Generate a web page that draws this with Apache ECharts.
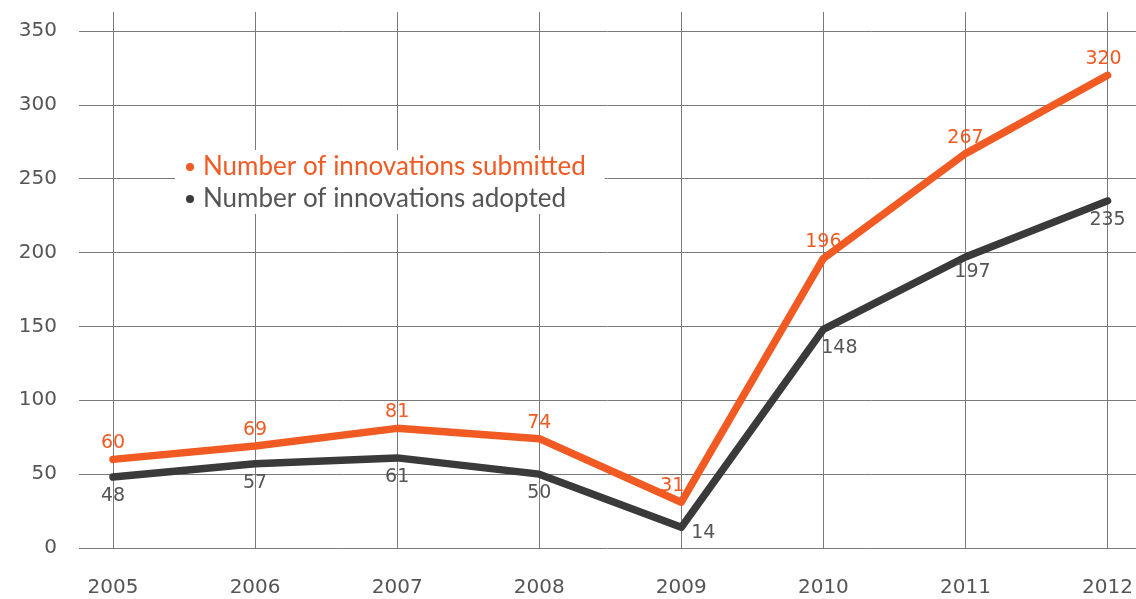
<!DOCTYPE html>
<html><head><meta charset="utf-8">
<script src="https://cdn.jsdelivr.net/npm/echarts@6/dist/echarts.min.js"></script>
<style>html,body{margin:0;padding:0;background:#fff}#c{width:1136px;height:599px}</style>
</head><body><div id="c"></div>
<script>
const years = ['2005','2006','2007','2008','2009','2010','2011','2012'];
const submitted = [60, 69, 81, 74, 31, 196, 267, 320];
const adopted = [48, 57, 61, 50, 14, 148, 197, 235];
const yTicks = [0, 350, 50]; // min, max, interval

const FONT = 'Lato';
const NUMFONT = 'DejaVu Sans';
const ORANGE = '#F15A22';
const DARK = '#3A3A3A';
const GRID = '#7a7a7a';
const TXT = '#555';

const subOffsets = {4: [-9, 0], 7: [-4, 0]};
const adoOffsets = {4: [22, -13], 5: [16, 0], 6: [7, -4]};

const chart = echarts.init(document.getElementById('c'), null, {renderer: 'canvas'});
const topPx = 12, y350Px = 31, bottomPx = 548;
const dataMax = yTicks[1] * (bottomPx - topPx) / (bottomPx - y350Px);

chart.setOption({
  animation: false,
  textStyle: {fontFamily: FONT},
  legend: {
    orient: 'vertical', left: 175, top: 150,
    backgroundColor: '#fff',
    padding: [4, 19, 2, 11],
    itemGap: 6, itemWidth: 8, itemHeight: 8, icon: 'circle',
    data: [
      {name: 'Number of innovations submitted', textStyle: {color: ORANGE}},
      {name: 'Number of innovations adopted', textStyle: {color: TXT}}
    ],
    textStyle: {fontSize: 26, lineHeight: 26, fontFamily: FONT, padding: [0, 0, 0, 4]}
  },
  grid: [
    {left: 113, right: 24, top: topPx, bottom: 599 - bottomPx},
    {left: 79, right: 0, top: y350Px, bottom: 599 - bottomPx}
  ],
  xAxis: [
    {type: 'category', gridIndex: 0, data: years, boundaryGap: false,
     axisLine: {show: false}, axisTick: {show: false},
     axisLabel: {color: TXT, fontSize: 20, margin: 30, fontFamily: NUMFONT},
     splitLine: {show: true, lineStyle: {color: GRID, width: 1}}},
    {type: 'value', gridIndex: 1, show: false, min: 0, max: 1}
  ],
  yAxis: [
    {type: 'value', gridIndex: 0, min: 0, max: dataMax, show: false, splitLine: {show: false}},
    {type: 'value', gridIndex: 1, min: yTicks[0], max: yTicks[1], interval: yTicks[2],
     axisLine: {show: false}, axisTick: {show: false},
     axisLabel: {color: TXT, fontSize: 20, margin: 22, fontFamily: NUMFONT},
     splitLine: {show: true, lineStyle: {color: GRID, width: 1}}}
  ],
  series: [
    {name: 'Number of innovations submitted', type: 'line', xAxisIndex: 0, yAxisIndex: 0,
     data: submitted.map((v, i) => ({value: v, label: {offset: subOffsets[i] || [0, 0]}})),
     smooth: false, symbol: 'circle', symbolSize: 1, showSymbol: true, color: ORANGE,
     itemStyle: {color: ORANGE},
     lineStyle: {width: 7.5, color: ORANGE, cap: 'round', join: 'round'},
     label: {show: true, position: 'top', distance: 6, color: ORANGE, fontSize: 19, fontFamily: NUMFONT},
     z: 3},
    {name: 'Number of innovations adopted', type: 'line', xAxisIndex: 0, yAxisIndex: 0,
     data: adopted.map((v, i) => ({value: v, label: {offset: adoOffsets[i] || [0, 0]}})),
     smooth: false, symbol: 'circle', symbolSize: 1, showSymbol: true, color: DARK,
     itemStyle: {color: DARK},
     lineStyle: {width: 7.5, color: DARK, cap: 'round', join: 'round'},
     label: {show: true, position: 'bottom', distance: 9, color: TXT, fontSize: 19, fontFamily: NUMFONT},
     z: 2}
  ]
});
</script></body></html>
